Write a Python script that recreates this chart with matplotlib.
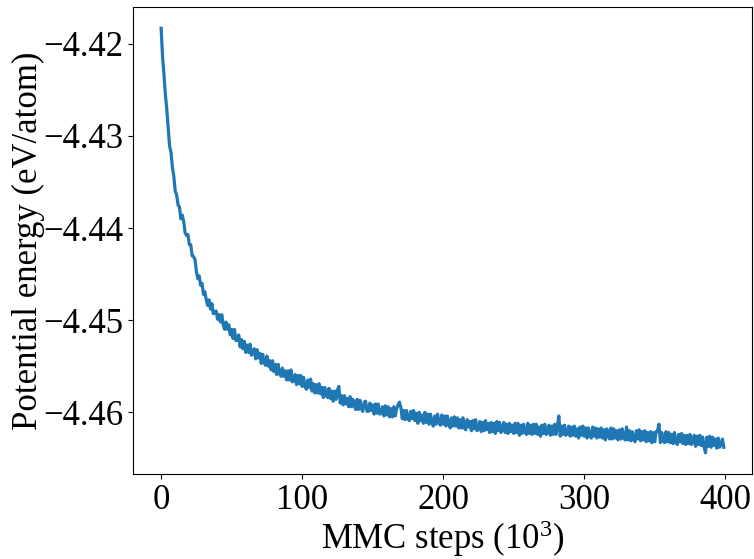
import numpy as np
import matplotlib
matplotlib.use("Agg")
import matplotlib.pyplot as plt

# MMC steps in units of 10^3, one sample every 1k steps
steps = np.arange(0, 400)

# potential energy (eV/atom)
energy = [
    -4.4183, -4.4214, -4.4233, -4.4255, -4.4271, -4.4291, -4.4311, -4.4318, -4.4334, -4.4344,
    -4.4360, -4.4364, -4.4375, -4.4377, -4.4390, -4.4386, -4.4393, -4.4405, -4.4408, -4.4407,
    -4.4418, -4.4418, -4.4430, -4.4431, -4.4434, -4.4447, -4.4455, -4.4452, -4.4462, -4.4460,
    -4.4472, -4.4469, -4.4478, -4.4484, -4.4478, -4.4488, -4.4482, -4.4493, -4.4492, -4.4490,
    -4.4499, -4.4494, -4.4502, -4.4494, -4.4505, -4.4510, -4.4502, -4.4510, -4.4505, -4.4516,
    -4.4510, -4.4520, -4.4510, -4.4522, -4.4522, -4.4516, -4.4529, -4.4521, -4.4531, -4.4523,
    -4.4535, -4.4527, -4.4535, -4.4526, -4.4538, -4.4536, -4.4531, -4.4542, -4.4532, -4.4541,
    -4.4536, -4.4547, -4.4537, -4.4546, -4.4549, -4.4539, -4.4550, -4.4544, -4.4554, -4.4544,
    -4.4556, -4.4548, -4.4559, -4.4548, -4.4558, -4.4561, -4.4552, -4.4561, -4.4555, -4.4565,
    -4.4555, -4.4565, -4.4554, -4.4567, -4.4566, -4.4559, -4.4570, -4.4560, -4.4569, -4.4560,
    -4.4572, -4.4562, -4.4572, -4.4575, -4.4565, -4.4573, -4.4564, -4.4577, -4.4569, -4.4579,
    -4.4570, -4.4579, -4.4569, -4.4580, -4.4573, -4.4584, -4.4573, -4.4581, -4.4584, -4.4574,
    -4.4585, -4.4577, -4.4588, -4.4577, -4.4586, -4.4576, -4.4572, -4.4590, -4.4582, -4.4592,
    -4.4582, -4.4591, -4.4585, -4.4594, -4.4583, -4.4594, -4.4586, -4.4593, -4.4597, -4.4586,
    -4.4597, -4.4587, -4.4596, -4.4599, -4.4589, -4.4588, -4.4599, -4.4599, -4.4590, -4.4598,
    -4.4592, -4.4602, -4.4591, -4.4601, -4.4591, -4.4602, -4.4601, -4.4594, -4.4604, -4.4593,
    -4.4603, -4.4594, -4.4605, -4.4596, -4.4605, -4.4594, -4.4604, -4.4596, -4.4592, -4.4589,
    -4.4595, -4.4607, -4.4598, -4.4608, -4.4598, -4.4607, -4.4609, -4.4599, -4.4607, -4.4598,
    -4.4609, -4.4601, -4.4612, -4.4600, -4.4609, -4.4603, -4.4612, -4.4600, -4.4611, -4.4602,
    -4.4613, -4.4602, -4.4611, -4.4615, -4.4604, -4.4613, -4.4602, -4.4611, -4.4614, -4.4603,
    -4.4613, -4.4604, -4.4615, -4.4604, -4.4612, -4.4617, -4.4606, -4.4615, -4.4605, -4.4615,
    -4.4606, -4.4617, -4.4608, -4.4617, -4.4606, -4.4617, -4.4619, -4.4608, -4.4616, -4.4610,
    -4.4620, -4.4609, -4.4618, -4.4608, -4.4620, -4.4618, -4.4610, -4.4621, -4.4611, -4.4620,
    -4.4609, -4.4619, -4.4612, -4.4622, -4.4611, -4.4621, -4.4612, -4.4623, -4.4610, -4.4620,
    -4.4611, -4.4622, -4.4619, -4.4611, -4.4622, -4.4613, -4.4623, -4.4612, -4.4621, -4.4614,
    -4.4623, -4.4612, -4.4622, -4.4612, -4.4625, -4.4614, -4.4623, -4.4613, -4.4621, -4.4624,
    -4.4612, -4.4623, -4.4614, -4.4624, -4.4613, -4.4623, -4.4613, -4.4624, -4.4616, -4.4626,
    -4.4614, -4.4623, -4.4613, -4.4624, -4.4622, -4.4614, -4.4625, -4.4615, -4.4624, -4.4613,
    -4.4624, -4.4615, -4.4604, -4.4626, -4.4615, -4.4624, -4.4614, -4.4625, -4.4623, -4.4615,
    -4.4626, -4.4616, -4.4625, -4.4615, -4.4626, -4.4618, -4.4628, -4.4616, -4.4625, -4.4615,
    -4.4626, -4.4617, -4.4628, -4.4617, -4.4625, -4.4628, -4.4616, -4.4626, -4.4617, -4.4628,
    -4.4618, -4.4627, -4.4617, -4.4628, -4.4619, -4.4630, -4.4618, -4.4626, -4.4629, -4.4617,
    -4.4629, -4.4618, -4.4628, -4.4620, -4.4630, -4.4619, -4.4629, -4.4618, -4.4628, -4.4630,
    -4.4616, -4.4630, -4.4620, -4.4631, -4.4621, -4.4630, -4.4632, -4.4620, -4.4629, -4.4619,
    -4.4631, -4.4621, -4.4630, -4.4620, -4.4632, -4.4622, -4.4631, -4.4621, -4.4633, -4.4622,
    -4.4632, -4.4621, -4.4620, -4.4613, -4.4633, -4.4622, -4.4631, -4.4633, -4.4621, -4.4632,
    -4.4622, -4.4633, -4.4624, -4.4634, -4.4622, -4.4632, -4.4635, -4.4624, -4.4632, -4.4623,
    -4.4634, -4.4625, -4.4635, -4.4625, -4.4634, -4.4624, -4.4635, -4.4633, -4.4625, -4.4637,
    -4.4626, -4.4635, -4.4625, -4.4636, -4.4627, -4.4638, -4.4644, -4.4627, -4.4637, -4.4626,
    -4.4638, -4.4627, -4.4636, -4.4629, -4.4639, -4.4628, -4.4638, -4.4635, -4.4629, -4.4638,
]

x_ticks = [0, 100, 200, 300, 400]
y_ticks = [-4.42, -4.43, -4.44, -4.45, -4.46]


def main():
    plt.rcParams['font.family'] = ['Liberation Serif', 'DejaVu Serif']
    plt.rcParams['mathtext.fontset'] = 'custom'
    plt.rcParams['mathtext.rm'] = 'Liberation Serif'
    plt.rcParams['mathtext.it'] = 'Liberation Serif:italic'
    plt.rcParams['font.size'] = 25

    fig = plt.figure(figsize=(7.54, 5.59), dpi=100)
    ax = fig.add_axes([0.1764, 0.152, 0.8209, 0.8355])
    ax.plot(steps, energy, color='#1f77b4', linewidth=2.3)

    ax.set_xticks(x_ticks)
    ax.set_yticks(y_ticks)
    ax.set_yticklabels([f"\u2212{abs(v):.2f}" for v in y_ticks])
    ax.tick_params(labelsize=25)

    ax.set_xlabel(r"MMC steps ($\mathregular{10^3}$)", fontsize=25, labelpad=1)
    ax.set_ylabel("Potential energy (eV/atom)", fontsize=25, labelpad=-1)
    fig.savefig("out.png", dpi=100)


if __name__ == '__main__':
    main()
